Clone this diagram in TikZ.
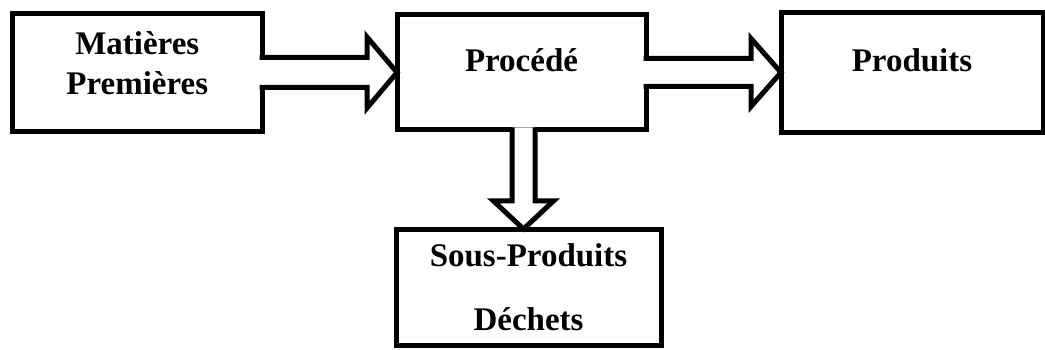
\documentclass[tikz,border=0pt]{standalone}
\usepackage{fontspec}
\setmainfont{Liberation Serif}
\usetikzlibrary{positioning}

\begin{document}
\begin{tikzpicture}[x=1pt,y=-1pt,
	bloc/.style={draw,line width=5pt,inner sep=0pt,outer sep=0pt,align=center,
		font=\bfseries\fontsize{33}{40}\selectfont},
	fleche/.style={draw,fill=white,line width=5pt}]
			\useasboundingbox (0,0) rectangle (1045,350);
			
			\node[bloc,minimum width=249.5pt,minimum height=118.5pt,text depth=18pt] (mp) at (137.25,72.5) {Matières\\Premières};
			\node[bloc,minimum width=249pt,minimum height=115pt,text height=24pt,text depth=25pt] (pc) at (521.5,72.5) {Procédé};
			\node[bloc,minimum width=262pt,minimum height=119.5pt,text height=24pt,text depth=25pt] (pd) at (912,72.5) {Produits};
			\node[bloc,minimum width=265pt,minimum height=116pt] (sp) at (528.5,287) {Sous-Produits\\[24pt]Déchets};
			
			\coordinate (dsrc) at ([xshift=2pt]pc.south);
			\coordinate (dtip) at ([xshift=-5pt]sp.north);
			
			\draw[fleche] ([shift={(-2.5,-15)}]mp.east) -- ([shift={(-30,-15)}]pc.west) -- ([shift={(-30,-35.5)}]pc.west) -- (pc.west)
				-- ([shift={(-30,35.5)}]pc.west) -- ([shift={(-30,15)}]pc.west) -- ([shift={(-2.5,15)}]mp.east);
			\draw[fleche] ([shift={(-2.5,-14)}]pc.east) -- ([shift={(-30,-14)}]pd.west) -- ([shift={(-30,-34)}]pd.west) -- (pd.west)
				-- ([shift={(-30,34)}]pd.west) -- ([shift={(-30,14)}]pd.west) -- ([shift={(-2.5,14)}]pc.east);
			\draw[fleche] ([shift={(-11.5,-2.5)}]dsrc) -- ([shift={(-11.5,-28)}]dtip) -- ([shift={(-30,-28)}]dtip) -- (dtip)
				-- ([shift={(30,-28)}]dtip) -- ([shift={(11.5,-28)}]dtip) -- ([shift={(11.5,-2.5)}]dsrc);
\end{tikzpicture}
\end{document}
